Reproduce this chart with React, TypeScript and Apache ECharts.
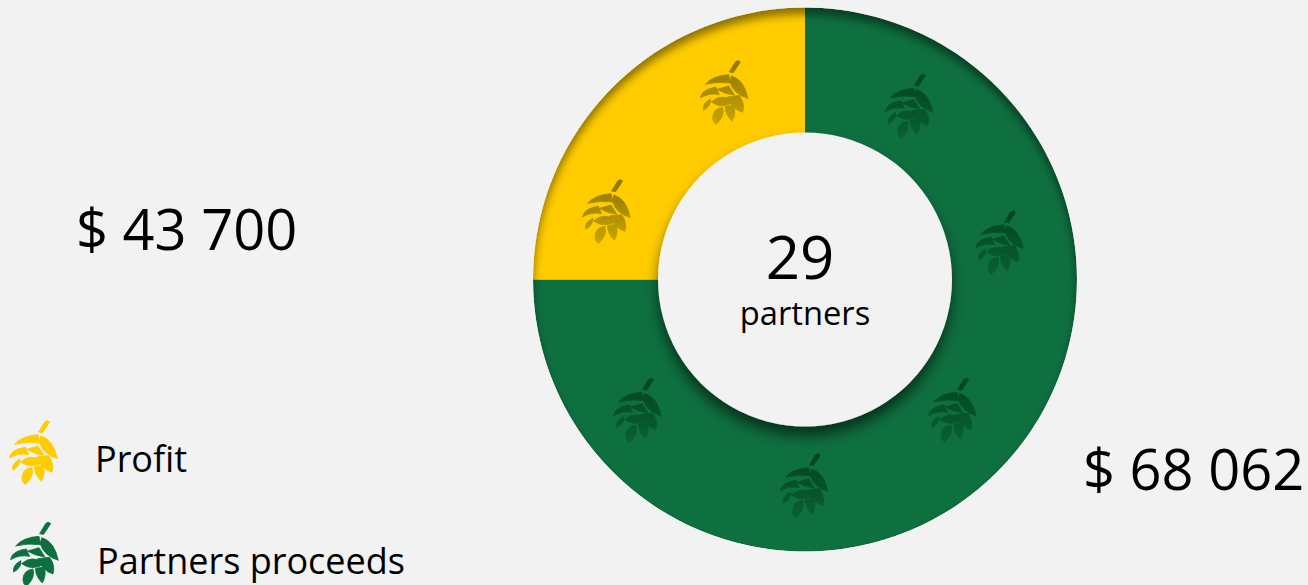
import React, { useEffect, useRef } from "react";
import * as echarts from "echarts";

const sliceNames = ["Partners proceeds", "Profit"];
const sliceShares = [75, 25];
const sliceColors = ["#0e6f3f", "#ffcc00"];
const amountLabels = ["$ 68 062", "$ 43 700"];
const centerCount = "29";
const centerCaption = "partners";

const BG = "#f2f2f2";
const FONT = "'Open Sans', sans-serif";
const CX = 805;
const CY = 279.5;
const R0 = 147;
const R1 = 272;

const HOP =
  "M116,66 L134,36 Q142,28 149,36 L128,68 Z " +
  "M44,103 Q66,77 114,74 L119,99 Q80,94 44,103 Z " +
  "M122,78 Q160,88 172,146 Q128,132 118,96 Z " +
  "M29,144 Q32,118 76,112 L86,134 Q55,128 29,144 Z " +
  "M80,118 L114,108 L132,136 Q100,132 80,118 Z " +
  "M38,181 Q34,160 60,147 Q62,168 38,181 Z " +
  "M62,156 Q92,128 132,155 Q96,180 62,156 Z " +
  "M110,141 L146,137 Q164,162 156,187 Q122,176 110,141 Z " +
  "M66,205 Q66,176 96,172 Q104,200 76,224 Q66,216 66,205 Z " +
  "M104,170 L129,166 Q138,190 124,214 Q102,192 104,170 Z";

echarts.graphic.registerShape("hop", echarts.graphic.extendPath(HOP as any, {}) as any);

const yellowHops = [
  [690.7, 50],
  [573, 169],
];
const greenHops = [
  [875.7, 63.6],
  [966, 200],
  [919, 367.6],
  [770.7, 443],
  [604, 367.6],
];

const grad = (a: string, b: string) =>
  new echarts.graphic.LinearGradient(0, 0, 0, 1, [
    { offset: 0, color: a },
    { offset: 1, color: b },
  ]);

const hop = (x: number, y: number, fill: any, z: number) => ({
  type: "hop",
  x,
  y,
  scaleX: 1 / 3,
  scaleY: 1 / 3,
  z,
  style: { fill, stroke: fill, lineWidth: 2.5, lineJoin: "round" },
});

const text = (
  s: string,
  x: number,
  y: number,
  size: number,
  align: string = "left"
) => ({
  type: "text",
  x,
  y,
  z: 30,
  style: {
    text: s,
    fill: "#000",
    font: `${size}px ${FONT}`,
    lineHeight: size,
    textAlign: align,
    textVerticalAlign: "middle",
  },
});

export default function App() {
  const ref = useRef<HTMLDivElement>(null);
  useEffect(() => {
    const chart = echarts.init(ref.current!, undefined, { renderer: "svg" });
    chart.setOption({
      animation: false,
      backgroundColor: BG,
      series: [
        {
          type: "pie",
          z: 2,
          center: [CX, CY],
          radius: [R0 - 2, R1],
          startAngle: 90,
          clockwise: true,
          silent: true,
          label: { show: false },
          labelLine: { show: false },
          data: sliceNames.map((name, i) => ({
            name,
            value: sliceShares[i],
            itemStyle: { color: sliceColors[i] },
          })),
        },
      ],
      graphic: {
        elements: [
          ...yellowHops.map(([x, y]) => hop(x, y, grad("#8f7600", "#c9a500"), 5)),
          ...greenHops.map(([x, y]) => hop(x, y, grad("#01451f", "#0a5f35"), 5)),
          {
            type: "ring",
            z: 10,
            shape: { cx: CX, cy: CY, r: 900, r0: R1 },
            style: {
              fill: BG,
              shadowBlur: 9,
              shadowOffsetY: 7,
              shadowColor: "rgba(0,0,0,0.45)",
            },
          },
          {
            type: "circle",
            z: 11,
            shape: { cx: CX, cy: CY, r: R0 },
            style: {
              fill: BG,
              shadowBlur: 13,
              shadowOffsetY: 9,
              shadowColor: "rgba(0,0,0,0.55)",
            },
          },
          text(amountLabels[1], 76, 228, 56),
          text(amountLabels[0], 1083, 467.5, 56),
          text(centerCount, 800, 256, 60, "center"),
          text(centerCaption, 805, 312, 32.7, "center"),
          text(sliceNames[1], 95, 458, 36),
          text(sliceNames[0], 97, 560, 36),
          hop(0, 410, sliceColors[1], 30),
          hop(1, 511.7, sliceColors[0], 30),
        ],
      },
    });
    return () => chart.dispose();
  }, []);
  return (
    <div
      ref={ref}
      style={{ position: "absolute", left: 0, top: 0, width: 1308, height: 585 }}
    />
  );
}
